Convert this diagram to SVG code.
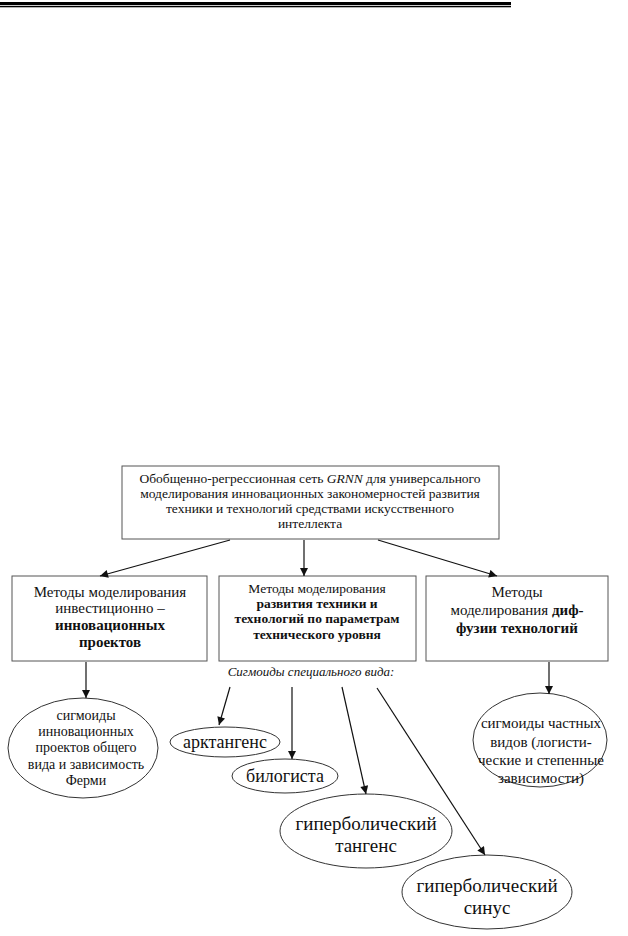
<svg xmlns="http://www.w3.org/2000/svg" width="628" height="936" viewBox="0 0 628 936">
<style>
text{font-family:'Liberation Serif','Times New Roman','DejaVu Serif',serif;fill:#111;text-anchor:middle}
.t1{font-size:13.5px}
.t2{font-size:15px}
.t4{font-size:14px}
.t3{font-size:19px}
.a{font-size:18px}
.b{font-weight:bold}
.it{font-style:italic;font-size:13px}
.box{fill:#fff;stroke:#555;stroke-width:1}
.ell{fill:#fff;stroke:#333;stroke-width:1}
.con line{stroke:#111;stroke-width:1.2;marker-end:url(#ah)}
</style>
<defs>
<marker id="ah" viewBox="0 0 10 10" refX="10" refY="5" markerWidth="10" markerHeight="8" orient="auto" markerUnits="userSpaceOnUse"><path d="M0,0 L10,5 L0,10 z" fill="#111"/></marker>
</defs>
<rect width="628" height="936" fill="#fff"/>
<rect x="0" y="2" width="511" height="3" fill="#000"/>
<rect x="0" y="5.8" width="511" height="1.5" fill="#000"/>

<g id="root">
<rect class="box" x="122" y="466" width="377" height="73"/>
<text class="t1" x="310" y="483">Обобщенно-регрессионная сеть <tspan font-style="italic">GRNN</tspan> для универсального</text>
<text class="t1" x="310" y="498">моделирования инновационных закономерностей развития</text>
<text class="t1" x="310" y="513">техники и технологий средствами искусственного</text>
<text class="t1" x="310" y="528">интеллекта</text>
</g>

<g id="m1">
<rect class="box" x="12" y="576" width="195" height="85"/>
<text class="t2" x="110" y="597">Методы моделирования</text>
<text class="t2" x="110" y="613">инвестиционно –</text>
<text class="t2 b" x="110" y="630">инновационных</text>
<text class="t2 b" x="110" y="647">проектов</text>
</g>

<g id="m2">
<rect class="box" x="219" y="576" width="197" height="85"/>
<text class="t1" x="317" y="593">Методы моделирования</text>
<text class="t1 b" x="317" y="608">развития техники и</text>
<text class="t1 b" x="317" y="623">технологий по параметрам</text>
<text class="t1 b" x="317" y="639">технического уровня</text>
</g>

<g id="m3">
<rect class="box" x="426" y="576" width="182" height="85"/>
<text class="t2" x="517" y="597">Методы</text>
<text class="t2" x="517" y="615">моделирования <tspan class="b">диф-</tspan></text>
<text class="t2 b" x="517" y="633">фузии технологий</text>
</g>

<g id="label">
<text class="it" x="311" y="676">Сигмоиды специального вида:</text>
</g>

<g id="e1">
<ellipse class="ell" cx="83" cy="748" rx="75" ry="50"/>
<text class="t4" x="86" y="720">сигмоиды</text>
<text class="t4" x="86" y="736">инновационных</text>
<text class="t4" x="86" y="752">проектов общего</text>
<text class="t4" x="86" y="769">вида и зависимость</text>
<text class="t4" x="86" y="785">Ферми</text>
</g>

<g id="e2">
<ellipse class="ell" cx="225" cy="742" rx="55" ry="15"/>
<text class="a" x="225" y="748">арктангенс</text>
</g>

<g id="e3">
<ellipse class="ell" cx="285" cy="776" rx="53" ry="17"/>
<text class="a" x="285" y="782">билогиста</text>
</g>

<g id="e4">
<ellipse class="ell" cx="366" cy="831" rx="86" ry="37"/>
<text class="t3" x="366" y="830">гиперболический</text>
<text class="t3" x="366" y="852">тангенс</text>
</g>

<g id="e5">
<ellipse class="ell" cx="487" cy="892" rx="85" ry="37"/>
<text class="t3" x="487" y="892">гиперболический</text>
<text class="t3" x="487" y="914">синус</text>
</g>

<g id="e6">
<ellipse class="ell" cx="540" cy="740" rx="67" ry="47"/>
<text class="t2" x="541" y="728">сигмоиды частных</text>
<text class="t2" x="541" y="747">видов (логисти-</text>
<text class="t2" x="541" y="765">ческие и степенные</text>
<text class="t2" x="541" y="783">зависимости)</text>
</g>

<g id="connectors" class="con">
<line x1="230" y1="540" x2="100" y2="576"/>
<line x1="304" y1="540" x2="304" y2="576"/>
<line x1="378" y1="540" x2="497" y2="576"/>
<line x1="86" y1="662" x2="86" y2="698"/>
<line x1="549" y1="662" x2="549" y2="694"/>
<line x1="230" y1="687" x2="219" y2="725"/>
<line x1="292" y1="687" x2="292" y2="759"/>
<line x1="342" y1="687" x2="366" y2="794"/>
<line x1="377" y1="688" x2="485" y2="855"/>
</g>
</svg>
